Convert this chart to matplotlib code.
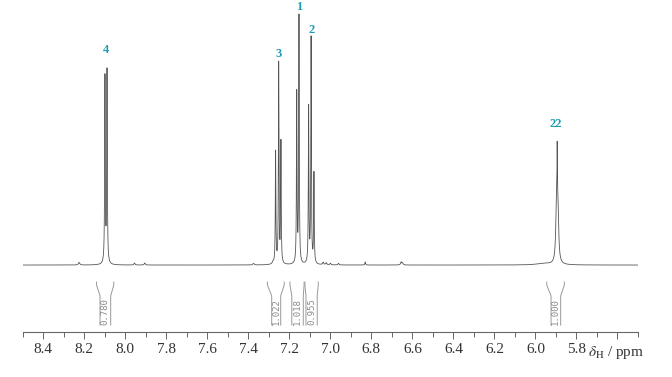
import numpy as np
import matplotlib
matplotlib.use('Agg')
import matplotlib.pyplot as plt

plt.rcParams['mathtext.fontset'] = 'stix'

# peak list: shift (ppm), height, half width (ppm)
shifts = [8.099, 8.089, 7.267, 7.252, 7.241, 7.164, 7.153, 7.106, 7.094, 7.080,
          5.8975, 5.8905, 5.894]
heights = [186, 192, 112, 200, 121, 170, 247, 156, 225, 90,
           52, 52, 62]
widths = [0.0017, 0.0017, 0.0016, 0.0016, 0.0016, 0.0016, 0.0016, 0.0016, 0.0016, 0.0016,
          0.0042, 0.0042, 0.0011]

# small baseline bumps
bump_shifts = [8.225, 7.955, 7.905, 7.375, 7.28, 7.035, 7.02, 7.00, 6.96, 6.83, 6.655, 6.648, 5.96]
bump_heights = [2.5, 2.0, 2.0, 1.5, 2.0, 2.5, 2.0, 1.5, 1.5, 3.0, 3.0, 2.0, 1.5]
bump_widths = [0.004, 0.003, 0.003, 0.004, 0.004, 0.003, 0.003, 0.003, 0.003, 0.002, 0.003, 0.003, 0.04]

# peak labels
label_text = ['4', '3', '1', '2', '22']
label_ppm = [8.092, 7.251, 7.154, 7.090, 5.902]
label_gap = [12, 1, 1, 0, 11]

# integrals: outer / inner limits (ppm) and value
int_outer = [(8.140, 8.056), (7.307, 7.225), (7.197, 7.128), (7.124, 7.059), (5.945, 5.859)]
int_inner = [(8.123, 8.071), (7.286, 7.242), (7.188, 7.132), (7.119, 7.064), (5.924, 5.877)]
int_values = ['0.780', '1.022', '1.018', '0.955', '1.000']

baseline = 66.7

ppm = np.linspace(8.5, 5.5, 30001)
spec = np.full_like(ppm, baseline)
for s, h, w in zip(shifts + bump_shifts, heights + bump_heights, widths + bump_widths):
    spec += h / (1 + ((ppm - s) / w) ** 2)

fig = plt.figure(figsize=(6.72, 3.77), dpi=100)
ax = fig.add_axes([0.0338, 0.12, 0.9156, 0.88])
ax.plot(ppm, spec, color='#555555', lw=0.6)

# peak labels
for t, p, g in zip(label_text, label_ppm, label_gap):
    near = np.abs(ppm - p) < 0.012
    top = spec[near].max()
    ax.text(p, top + g, t, ha='center', va='bottom', color='#1e9bb0',
            fontsize=9, fontweight='bold', family='Liberation Serif')

# integral brackets
top_y, bend_y, bot_y = 49.7, 36.0, 6.7
for (ol, orr), (il, ir), v in zip(int_outer, int_inner, int_values):
    for o, i in ((ol, il), (orr, ir)):
        ax.plot([o, o, i, i], [top_y, top_y - 3, bend_y, bot_y], color='#999999', lw=0.7)
    ax.text((il + ir) / 2, 20.5, v, rotation=90, ha='center', va='center',
            fontsize=6.5, family='DejaVu Sans Mono', color='#8a8a8a')

ax.set_xlim(8.5, 5.5)
ax.set_ylim(0, 331.7)
for side in ['top', 'right', 'left']:
    ax.spines[side].set_visible(False)
ax.spines['bottom'].set_color('#666666')
ax.spines['bottom'].set_linewidth(0.8)
ax.set_yticks([])

major = np.round(np.arange(8.4, 5.55, -0.2), 1)
ax.set_xticks(major)
ax.set_xticklabels([f'{m:.1f}' if m > 5.7 else '' for m in major],
                   family='Liberation Serif', fontsize=11)
ax.set_xticks(np.round(np.arange(8.5, 5.45, -0.2), 1), minor=True)
ax.tick_params(axis='x', which='major', direction='out', length=5, width=0.7,
               color='#666666', pad=3, labelcolor='#333333')
ax.tick_params(axis='x', which='minor', direction='out', length=3.5, width=0.7,
               color='#666666')

ax.text(5.607, -20.3, r'$\delta_\mathrm{H}$ / ppm', ha='center', va='center',
        fontsize=11, family='Liberation Serif', color='#333333', clip_on=False)

fig.savefig('out.png', dpi=100)
